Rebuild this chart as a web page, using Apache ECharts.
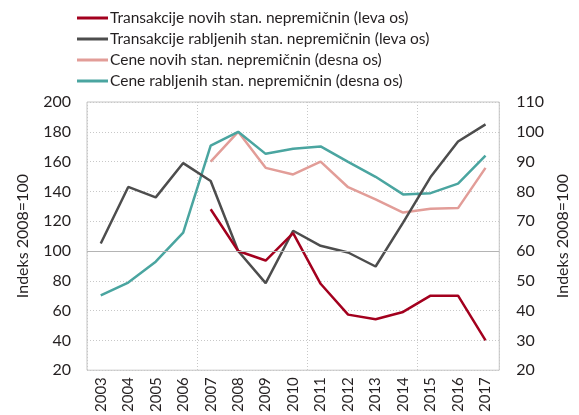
<!DOCTYPE html>
<html>
<head>
<meta charset="utf-8">
<script src="https://cdn.jsdelivr.net/npm/echarts@6/dist/echarts.min.js"></script>
<style>
  html, body { margin: 0; padding: 0; background: #fff; }
  #chart { width: 579px; height: 415px; }
</style>
</head>
<body>
<div id="chart"></div>
<script>
// years on the x axis
const years = ['2003', '2004', '2005', '2006', '2007', '2008', '2009', '2010',
  '2011', '2012', '2013', '2014', '2015', '2016', '2017']

// left axis (transactions)
const transNovih = [null, null, null, null, 128, 100, 93.6, 112, 78, 57.3, 54.2, 59.1, 70, 70, 40]
const transRabljenih = [105, 143, 136, 159, 147, 100, 78.4, 113.6, 103.5, 99, 89.6, 119, 149.6, 173.5, 185]

// right axis (prices)
const ceneNovih = [null, null, null, null, 90, 100, 87.9, 85.7, 90, 81.4, 77.3, 72.9, 74.2, 74.4, 87.9]
const ceneRabljenih = [45.1, 49.4, 56.4, 66.2, 95.4, 100, 92.6, 94.3, 95.1, 89.9, 84.9, 79, 79.4, 82.6, 92]

const names = [
  'Transakcije novih stan. nepremičnin (leva os)',
  'Transakcije rabljenih stan. nepremičnin (leva os)',
  'Cene novih stan. nepremičnin (desna os)',
  'Cene rabljenih stan. nepremičnin (desna os)'
]
const colors = ['#a3001e', '#4d4d4d', '#e29d98', '#4aa5a0']

const font = 'Lato'
const textColor = '#231f20'

const chart = echarts.init(document.getElementById('chart'), null, { renderer: 'canvas' })

const lineSeries = (name, data, axis, color) => ({
  name,
  type: 'line',
  yAxisIndex: axis,
  data,
  symbol: 'none',
  connectNulls: false,
  lineStyle: { color, width: 2.5 },
  itemStyle: { color }
})

const option = {
  animation: false,
  color: colors,
  textStyle: { fontFamily: font },
  legend: {
    orient: 'vertical',
    left: 77,
    top: 10,
    padding: 0,
    itemWidth: 31,
    itemHeight: 3,
    itemGap: 5,
    icon: 'rect',
    textStyle: { fontFamily: font, fontSize: 15.5, color: textColor, padding: [0, 0, 0, -3] },
    data: names
  },
  grid: {
    left: 87,
    right: 76,
    top: 102,
    bottom: 43,
    show: true,
    borderColor: '#c4c4c4',
    borderWidth: 1
  },
  xAxis: {
    type: 'category',
    data: years,
    boundaryGap: true,
    axisLine: { show: false },
    axisTick: { show: false },
    axisLabel: {
      rotate: 90,
      margin: 7,
      fontFamily: font,
      fontSize: 15,
      color: textColor
    },
    splitLine: {
      show: true,
      interval: 3,
      lineStyle: { color: '#c8c8c8', type: [1, 2], width: 1 }
    }
  },
  yAxis: [
    {
      type: 'value',
      min: 20,
      max: 200,
      interval: 20,
      name: 'Indeks 2008=100',
      nameLocation: 'middle',
      nameRotate: 90,
      nameGap: 56,
      nameTextStyle: { fontFamily: font, fontSize: 16, color: textColor },
      axisLine: { show: false },
      axisTick: { show: false },
      axisLabel: { fontFamily: font, fontSize: 16, color: textColor, margin: 16 },
      splitLine: {
        show: true,
        lineStyle: { color: '#c8c8c8', type: [1, 2], width: 1 }
      }
    },
    {
      type: 'value',
      min: 20,
      max: 110,
      interval: 10,
      name: 'Indeks 2008=100',
      nameLocation: 'middle',
      nameRotate: 90,
      nameGap: 52,
      nameTextStyle: { fontFamily: font, fontSize: 16, color: textColor },
      axisLine: { show: false },
      axisTick: { show: false },
      axisLabel: { fontFamily: font, fontSize: 16, color: textColor, margin: 17 },
      splitLine: { show: false }
    }
  ],
  series: [
    {
      ...lineSeries(names[0], transNovih, 0, colors[0]),
      markLine: {
        silent: true,
        symbol: 'none',
        label: { show: false },
        lineStyle: { color: '#b4b4b4', type: 'solid', width: 1.2 },
        data: [{ yAxis: 100 }]
      },
      z: 4
    },
    { ...lineSeries(names[1], transRabljenih, 0, colors[1]), z: 3 },
    { ...lineSeries(names[2], ceneNovih, 1, colors[2]), z: 2 },
    { ...lineSeries(names[3], ceneRabljenih, 1, colors[3]), z: 2 }
  ]
}

chart.setOption(option)
</script>
</body>
</html>
